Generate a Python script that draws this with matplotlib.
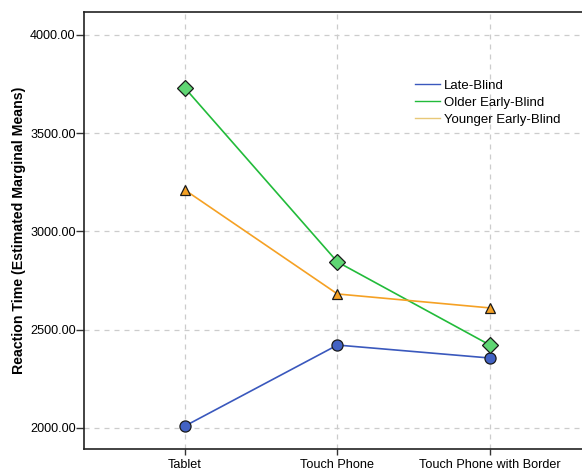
import matplotlib
matplotlib.use("Agg")
import matplotlib.pyplot as plt
from matplotlib.lines import Line2D

devices = ["Tablet", "Touch Phone", "Touch Phone with Border"]
late_blind = [2010, 2422, 2356]
older_early = [3730, 2845, 2422]
younger_early = [3211, 2682, 2611]
yticks = [2000, 2500, 3000, 3500, 4000]

plt.rcParams['font.family'] = ['Liberation Sans', 'DejaVu Sans']

fig = plt.figure(figsize=(5.82, 4.71), dpi=100)
ax = fig.add_axes([84/582, 22/471, 1.0 - 84/582 + 0.01, 437/471])

x = list(range(len(devices)))
ax.plot(x, late_blind, color='#3a58bd', lw=1.2, marker='o', ms=8,
        mfc='#4262c4', mec='#1a1a1a', mew=0.9, zorder=3)
ax.plot(x, older_early, color='#22bb3a', lw=1.2, marker='D', ms=8,
        mfc='#5fd673', mec='#1a1a1a', mew=0.9, zorder=3)
ax.plot(x, younger_early, color='#f5a124', lw=1.2, marker='^', ms=7,
        mfc='#f5a124', mec='#1a1a1a', mew=0.9, zorder=3)

ax.set_xlim(-0.662, 2.642)
ax.set_ylim(1893, 4117)
ax.set_xticks(x)
ax.set_xticklabels(devices, fontsize=9.1)
ax.set_yticks(yticks)
ax.set_yticklabels(["%.2f" % v for v in yticks], fontsize=9.1)
ax.tick_params(axis='x', direction='out', length=4.5, width=1, color='#333333', pad=3)
ax.tick_params(axis='y', direction='out', length=5.5, width=1, color='#333333', pad=0.5)
ax.grid(True, ls=(0, (4, 4)), color='#cccccc', lw=0.9)
ax.set_axisbelow(True)
for s in ax.spines.values():
    s.set_color('#222222')
    s.set_linewidth(1.2)

ax.set_ylabel("Reaction Time (Estimated Marginal Means)", fontsize=10.2,
              fontweight='bold', labelpad=3)

handles = [Line2D([], [], color='#3a58bd', lw=1),
           Line2D([], [], color='#22bb3a', lw=1),
           Line2D([], [], color='#e8c878', lw=1)]
ax.legend(handles, ["Late-Blind", "Older Early-Blind", "Younger Early-Blind"],
          loc='upper left', bbox_to_anchor=(0.633, 0.872), frameon=False,
          fontsize=9.5, handlelength=1.9, handletextpad=0.3, labelspacing=0.35)

fig.savefig("out.png", dpi=100)
